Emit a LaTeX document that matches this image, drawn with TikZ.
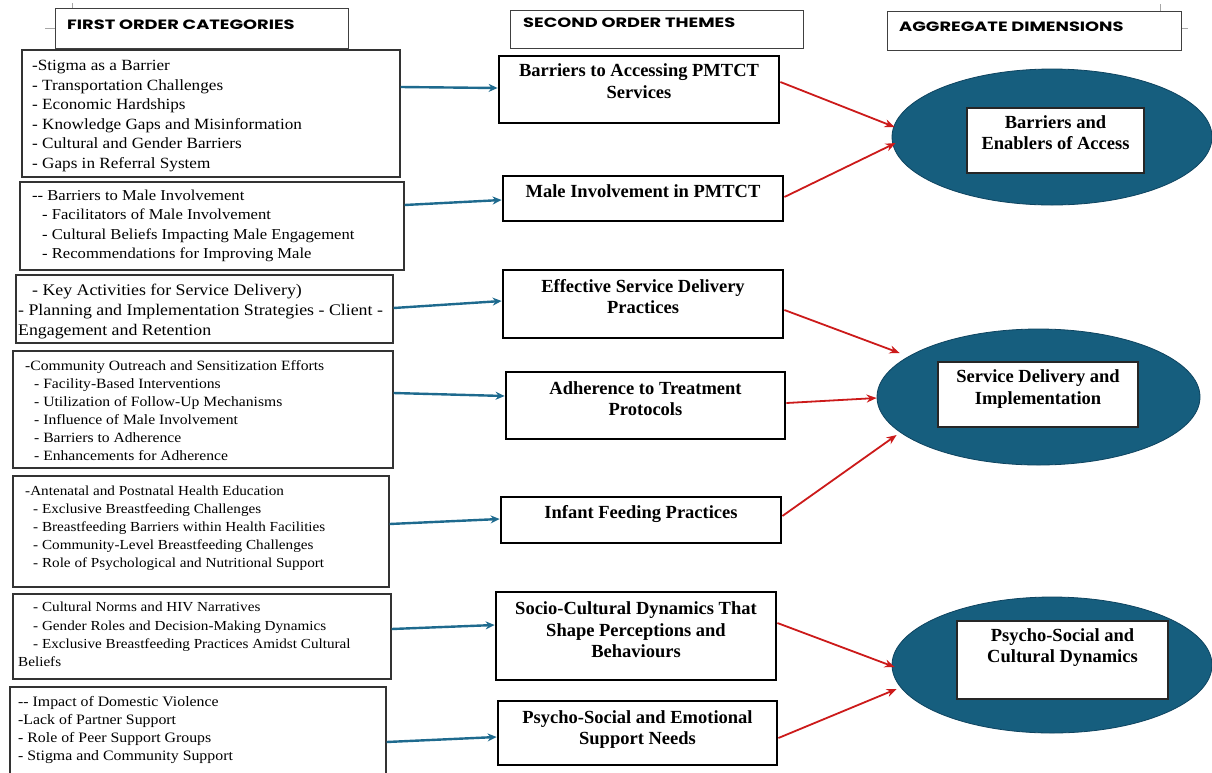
\documentclass[tikz,border=0pt]{standalone}
\usepackage{fontspec}
\setmainfont{Liberation Serif}
\newfontfamily\itemfont[FakeStretch=1.1]{Liberation Serif}
\newfontfamily\headfont[FakeStretch=1.32]{Poppins}
\usetikzlibrary{arrows.meta,shapes.geometric}
\definecolor{ellfill}{HTML}{165E7E}
\definecolor{elldraw}{HTML}{0E4460}
\definecolor{arrblue}{HTML}{1E6A8E}
\definecolor{arrred}{HTML}{CC1A1A}
\tikzset{
  catbox/.style={draw=black!80, line width=1.1pt, inner sep=0pt},
  headbox/.style={draw=black!75, line width=1pt, inner sep=0pt},
  themebox/.style={draw=black, line width=2.8pt, inner sep=0pt, fill=white},
  innerbox/.style={draw=black!85, line width=1.4pt, inner sep=0pt, fill=white},
  dimell/.style={ellipse, fill=ellfill, draw=elldraw, line width=0.8pt, inner sep=0pt},
  itemtext/.style={anchor=north west, align=left, inner sep=0pt},
  themetext/.style={anchor=north, align=center, inner sep=0pt, font=\bfseries\fontsize{18.5}{21.5}\selectfont},
  headtext/.style={anchor=north west, inner sep=0pt, font=\headfont\bfseries\fontsize{13.5}{15}\selectfont},
  bluearrow/.style={draw=arrblue, line width=2.4pt, -{Stealth[length=9pt,width=8pt]}},
  redarrow/.style={draw=arrred, line width=1.8pt, -{Stealth[length=10pt,width=8pt]}},
  cropmark/.style={draw=black!35, line width=0.6pt}
}
\begin{document}
\begin{tikzpicture}[x=1pt,y=-1pt]
\useasboundingbox (0,0) rectangle (1212,772);
\fill[white] (0,0) rectangle (1212,772);
\clip (0,0) rectangle (1212,772);

% crop marks
\draw[cropmark] (72,3) -- (72,8);
\draw[cropmark] (45,28) -- (55,28);
\draw[cropmark] (1160,4) -- (1160,11);
\draw[cropmark] (1181,28) -- (1188,28);

% headers
\node[headbox, minimum width=293, minimum height=40] (h1) at (201.5,28) {};
\node[headtext] (h1t) at (67,19.5) {FIRST ORDER CATEGORIES};
\node[headbox, minimum width=293, minimum height=38] (h2) at (656.5,29) {};
\node[headtext] (h2t) at (523,17.5) {SECOND ORDER THEMES};
\node[headbox, minimum width=294, minimum height=39] (h3) at (1034,30.5) {};
\node[headtext] (h3t) at (899,21.5) {AGGREGATE DIMENSIONS};

% first order category boxes
\node[catbox, minimum width=378, minimum height=127] (l1) at (211,113.5) {};
\node[itemtext, font=\itemfont\fontsize{15.6}{19.5}\selectfont] (l1t) at (32,60)
  {-Stigma as a Barrier\\- Transportation Challenges\\- Economic Hardships\\- Knowledge Gaps and Misinformation\\- Cultural and Gender Barriers\\- Gaps in Referral System};

\node[catbox, minimum width=384, minimum height=88] (l2) at (212,226) {};
\node[itemtext, font=\itemfont\fontsize{15.1}{19.3}\selectfont] (l2t) at (32,190)
  {-{}- Barriers to Male Involvement\\\hspace*{10pt}- Facilitators of Male Involvement\\\hspace*{10pt}- Cultural Beliefs Impacting Male Engagement\\\hspace*{10pt}- Recommendations for Improving Male};

\node[catbox, minimum width=377, minimum height=68] (l3) at (204.5,309) {};
\node[itemtext, font=\itemfont\fontsize{16.2}{20}\selectfont] (l3t) at (18,284)
  {\hspace*{14pt}- Key Activities for Service Delivery)\\- Planning and Implementation Strategies - Client -\\Engagement and Retention};

\node[catbox, minimum width=380, minimum height=117] (l4) at (203,409.5) {};
\node[itemtext, font=\itemfont\fontsize{14.2}{18}\selectfont] (l4t) at (25,360)
  {-Community Outreach and Sensitization Efforts\\\hspace*{9pt}- Facility-Based Interventions\\\hspace*{9pt}- Utilization of Follow-Up Mechanisms\\\hspace*{9pt}- Influence of Male Involvement\\\hspace*{9pt}- Barriers to Adherence\\\hspace*{9pt}- Enhancements for Adherence};

\node[catbox, minimum width=376, minimum height=111] (l5) at (201,531.5) {};
\node[itemtext, font=\itemfont\fontsize{13.8}{18}\selectfont] (l5t) at (25,486)
  {-Antenatal and Postnatal Health Education\\\hspace*{8pt}- Exclusive Breastfeeding Challenges\\\hspace*{8pt}- Breastfeeding Barriers within Health Facilities\\\hspace*{8pt}- Community-Level Breastfeeding Challenges\\\hspace*{8pt}- Role of Psychological and Nutritional Support};

\node[catbox, minimum width=378, minimum height=85] (l6) at (202,636.5) {};
\node[itemtext, font=\itemfont\fontsize{13.8}{18.3}\selectfont] (l6t) at (18,602)
  {\hspace*{15pt}- Cultural Norms and HIV Narratives\\\hspace*{15pt}- Gender Roles and Decision-Making Dynamics\\\hspace*{15pt}- Exclusive Breastfeeding Practices Amidst Cultural\\Beliefs};

\node[catbox, minimum width=376, minimum height=89] (l7) at (198,731.5) {};
\node[itemtext, font=\itemfont\fontsize{14.4}{18}\selectfont] (l7t) at (18,696)
  {-{}- Impact of Domestic Violence\\-Lack of Partner Support\\- Role of Peer Support Groups\\- Stigma and Community Support};

% second order themes
\node[themebox, minimum width=280, minimum height=67] (m1) at (639,89.5) {};
\node[themetext] (m1t) at ([yshift=-9]m1.north) {Barriers to Accessing PMTCT\\Services};
\node[themebox, minimum width=280, minimum height=45] (m2) at (643,198.5) {};
\node[themetext] (m2t) at ([yshift=-10]m2.north) {Male Involvement in PMTCT};
\node[themebox, minimum width=280, minimum height=68] (m3) at (643,304) {};
\node[themetext] (m3t) at ([yshift=-10.5]m3.north) {Effective Service Delivery\\Practices};
\node[themebox, minimum width=279, minimum height=67] (m4) at (645.5,405.5) {};
\node[themetext] (m4t) at ([yshift=-10.5]m4.north) {Adherence to Treatment\\Protocols};
\node[themebox, minimum width=280, minimum height=46] (m5) at (641,520) {};
\node[themetext] (m5t) at ([yshift=-9.5]m5.north) {Infant Feeding Practices};
\node[themebox, minimum width=280, minimum height=88] (m6) at (636,636) {};
\node[themetext] (m6t) at ([yshift=-11]m6.north) {Socio-Cultural Dynamics That\\Shape Perceptions and\\Behaviours};
\node[themebox, minimum width=279, minimum height=64] (m7) at (637.5,733) {};
\node[themetext] (m7t) at ([yshift=-10.5]m7.north) {Psycho-Social and Emotional\\Support Needs};

% aggregate dimensions
\node[dimell, minimum width=320, minimum height=136] (e1) at (1052,137) {};
\node[innerbox, minimum width=177, minimum height=65] (b1) at (1055.5,140.5) {};
\node[themetext] (b1t) at ([yshift=-8]b1.north) {Barriers and\\Enablers of Access};
\node[dimell, minimum width=323, minimum height=136] (e2) at (1038.5,397) {};
\node[innerbox, minimum width=200, minimum height=65] (b2) at (1038,394.5) {};
\node[themetext] (b2t) at ([yshift=-8.5]b2.north) {Service Delivery and\\Implementation};
\node[dimell, minimum width=320, minimum height=136] (e3) at (1052,665) {};
\node[innerbox, minimum width=211, minimum height=78] (b3) at (1062.5,660) {};
\node[themetext] (b3t) at ([yshift=-8]b3.north) {Psycho-Social and\\Cultural Dynamics};

% blue connectors
\draw[bluearrow] ([yshift=26.5]l1.east) -- ([yshift=1.5]m1.west);
\draw[bluearrow] ([yshift=21]l2.east) -- ([yshift=-1.5]m2.west);
\draw[bluearrow] ([yshift=1]l3.east) -- ([yshift=3]m3.west);
\draw[bluearrow] ([yshift=16.5]l4.east) -- ([yshift=9.5]m4.west);
\draw[bluearrow] ([yshift=7.5]l5.east) -- ([yshift=1]m5.west);
\draw[bluearrow] ([yshift=7.5]l6.east) -- ([yshift=11]m6.west);
\draw[bluearrow] ([yshift=-10.5]l7.east) -- ([yshift=-4]m7.west);

% red connectors
\draw[redarrow] ([yshift=7.5]m1.east) -- ([xshift=3,yshift=10]e1.west);
\draw[redarrow] ([yshift=1.5]m2.east) -- ([xshift=4,yshift=-6]e1.west);
\draw[redarrow] ([yshift=-6]m3.east) -- ([xshift=23,yshift=44]e2.west);
\draw[redarrow] ([yshift=2.5]m4.east) -- ([yshift=-1]e2.west);
\draw[redarrow] ([yshift=4]m5.east) -- ([xshift=20,yshift=-38]e2.west);
\draw[redarrow] ([yshift=13]m6.east) -- ([xshift=3,yshift=-2]e3.west);
\draw[redarrow] ([yshift=-5]m7.east) -- ([xshift=5,yshift=-24]e3.west);
\end{tikzpicture}
\end{document}
